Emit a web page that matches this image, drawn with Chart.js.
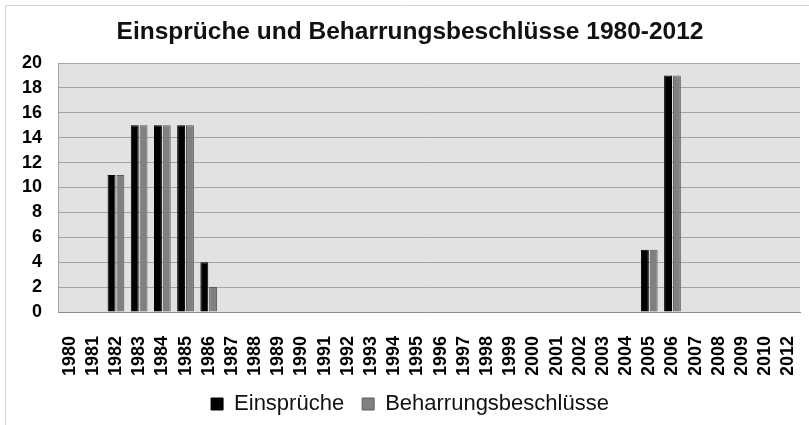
<!DOCTYPE html>
<html>
<head>
<meta charset="utf-8">
<script src="https://cdn.jsdelivr.net/npm/chart.js@4"></script>
<style>
  html, body { margin: 0; padding: 0; background: #fff; }
  #wrap { width: 809px; height: 425px; }
</style>
</head>
<body>
<div id="wrap"><canvas id="chart" width="809" height="425"></canvas></div>
<script>
// Data
const years = ['1980', '1981', '1982', '1983', '1984', '1985', '1986', '1987', '1988', '1989',
    '1990', '1991', '1992', '1993', '1994', '1995', '1996', '1997', '1998', '1999',
    '2000', '2001', '2002', '2003', '2004', '2005', '2006', '2007', '2008', '2009',
    '2010', '2012'];
const einsprueche = [0, 0, 11, 15, 15, 15, 4, 0, 0, 0, 0, 0, 0, 0, 0, 0, 0, 0, 0, 0,
    0, 0, 0, 0, 0, 5, 19, 0, 0, 0, 0, 0];
const beharrung = [0, 0, 11, 15, 15, 15, 2, 0, 0, 0, 0, 0, 0, 0, 0, 0, 0, 0, 0, 0,
    0, 0, 0, 0, 0, 5, 19, 0, 0, 0, 0, 0];
const yTicks = [0, 2, 4, 6, 8, 10, 12, 14, 16, 18, 20];

const FONT = "'Liberation Sans', Arial, sans-serif";

// Gray plot background and thin outer frame
const frame = {
    id: 'frame',
    beforeDraw(chart) {
        const { ctx, chartArea: a } = chart;
        ctx.save();
        ctx.fillStyle = '#fff';
        ctx.fillRect(0, 0, chart.width, chart.height);
        ctx.strokeStyle = '#d4d4d4';
        ctx.lineWidth = 1;
        ctx.beginPath();
        ctx.moveTo(5.5, chart.height);
        ctx.lineTo(5.5, 5.5);
        ctx.lineTo(chart.width, 5.5);
        ctx.stroke();
        ctx.fillStyle = '#e2e2e2';
        ctx.fillRect(a.left, a.top, a.right - a.left, a.bottom - a.top);
        ctx.restore();
    }
};

new Chart(document.getElementById('chart'), {
    type: 'bar',
    data: {
        labels: years,
        datasets: [{
            label: 'Einsprüche',
            data: einsprueche,
            backgroundColor: '#000000',
            borderColor: '#000000',
            borderWidth: 1
        }, {
            label: 'Beharrungsbeschlüsse',
            data: beharrung,
            backgroundColor: '#808080',
            borderColor: '#5a5a5a',
            borderWidth: 1
        }]
    },
    options: {
        responsive: false,
        animation: false,
        layout: { padding: { left: 20, right: 9, top: 0, bottom: 0 } },
        datasets: {
            bar: { categoryPercentage: 0.76, barPercentage: 0.9 }
        },
        plugins: {
            title: {
                display: true,
                text: 'Einsprüche und Beharrungsbeschlüsse 1980-2012',
                color: '#111',
                font: { family: FONT, size: 24.5, weight: 'bold', lineHeight: 1.2 },
                padding: { top: 17.3, bottom: 16.3 }
            },
            legend: {
                position: 'bottom',
                labels: {
                    color: '#111',
                    font: { family: FONT, size: 22 },
                    boxWidth: 12,
                    boxHeight: 12,
                    padding: 18
                }
            },
            tooltip: { enabled: false }
        },
        scales: {
            x: {
                grid: { display: false },
                border: { display: true, color: '#8c8c8c' },
                ticks: {
                    color: '#000',
                    font: { family: FONT, size: 18, weight: 'bold' },
                    autoSkip: false,
                    minRotation: 90,
                    maxRotation: 90,
                    padding: 16
                },
                afterFit(scale) {
                    scale.height = 63;
                    scale.paddingRight = 0;
                }
            },
            y: {
                min: 0,
                max: 20,
                afterBuildTicks(scale) { scale.ticks = yTicks.map(v => ({ value: v })); },
                grid: { color: '#a4a4a4', drawTicks: false },
                border: { display: true, color: '#a4a4a4' },
                ticks: {
                    color: '#000',
                    font: { family: FONT, size: 18, weight: 'bold' },
                    padding: 16
                },
                afterFit(scale) { scale.width = 38; }
            }
        }
    },
    plugins: [frame]
});
</script>
</body>
</html>
